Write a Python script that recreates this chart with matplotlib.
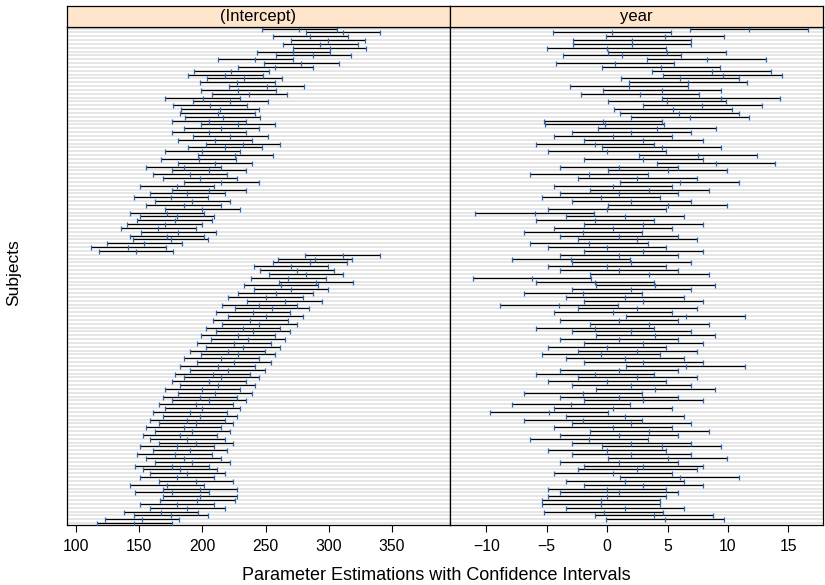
import matplotlib.pyplot as plt

plt.rcParams['font.family'] = ['Liberation Sans', 'DejaVu Sans']

# per-subject coefficient estimates and CI half-widths, listed top row first
int_est = [276.8, 311.1, 285.5, 299.3, 293.4, 300.6, 272.0, 287.9, 241.9, 278.1,
           257.5, 222.9, 217.9, 233.2, 227.7, 250.9, 228.5, 237.2, 200.2, 222.1,
           205.8, 213.7, 212, 216, 205, 228, 215, 205, 222, 210,
           232, 218, 200, 226, 197, 210, 185, 205, 190, 198,
           215, 180, 205, 188, 175, 192, 185, 200, 172, 180,
           178, 170, 165, 180.9, 171.7, 174.9, 154.0, 141.3, 147.1,
           311, 289, 285, 270, 275, 282, 268, 290, 262, 270,
           258, 250, 265, 245, 255, 240, 250, 238, 245, 232,
           240, 228, 236, 225, 232, 220, 228, 215, 225, 212,
           220, 208, 215, 205, 212, 200, 210, 198, 205, 195,
           200, 190, 198, 188, 195, 185, 192, 182, 188, 195,
           180, 190, 178, 185, 192, 176, 182, 188, 180, 195,
           172, 198, 176, 198, 196, 180, 188, 167, 175, 152, 146]
int_half = [
    29.5, 29.3, 29.7, 29.5, 29.7, 29.1, 29.0, 29.9, 29.4, 29.7,
    29.7, 29.9, 29.7, 29.7, 29.5, 29.8, 29.7, 29.8, 29.5, 29.6,
    29.5, 31.0, 29.5, 29.5, 29.5, 29.5, 29.5, 29.5, 29.5, 29.5,
    29.5, 29.5, 29.5, 29.5, 29.5, 29.5, 29.5, 29.5, 29.5, 29.5,
    29.5, 29.5, 29.5, 29.5, 29.5, 29.5, 29.5, 29.5, 29.5, 29.5,
    29.5, 29.5, 29.5, 29.7, 29.3, 29.7, 29.6, 29.5, 29.3,
    29.5, 29.5, 29.5, 29.5, 29.5, 29.5, 29.5, 29.5, 29.5, 29.5,
    29.5, 29.5, 29.5, 29.5, 29.5, 29.5, 29.5, 29.5, 29.5, 29.5,
    29.5, 29.5, 29.5, 29.5, 29.5, 29.5, 29.5, 29.5, 29.5, 29.5,
    29.5, 29.5, 29.5, 29.5, 29.5, 29.5, 29.5, 29.5, 29.5, 29.5,
    29.5, 29.5, 29.5, 29.5, 29.5, 29.5, 29.5, 29.5, 29.5, 29.5,
    29.5, 29.5, 29.5, 29.5, 29.5, 29.5, 29.5, 29.5, 29.5, 29.5,
    29.5, 29.5, 29.5, 29.5, 29.5, 29.5, 29.5, 29.5, 29.5, 29.5, 29.5]
year_est = [11.75, 0.41, 4.80, 2.02, 2.02, -0.05, 4.92, 1.24, 8.23, 0.66,
            4.47, 8.64, 9.55, 6.04, 6.70, 1.82, 4.55, 2.73, 9.39, 4.97,
            7.86, 5.46, 5.96, 6.87, -0.33, -0.2, 4.09, 2.0, 0.5, 3.0,
            -1.0, 4.5, 0.0, 7.5, 3.0, 9.0, 1.0, 5.0, -1.5, 2.5,
            6.0, 0.5, 3.5, 1.0, -0.5, 2.0, 5.0, 0.0, -6.0, 1.5,
            -1.0, 3.0, 0.5, -2.0, 1.0, 2.5, -1.5, 0.0, 3.0,
            1.0, -3.0, 2.0, 0.0, 1.0, 3.5, -6.2, -1.0, 4.0, 2.0,
            -2.0, 1.5, 3.0, -4.0, 2.5, 0.5, 6.5, 1.0, 3.5, -1.0,
            2.0, 4.0, 1.0, 3.0, 0.0, 2.5, -0.5, 1.5, 3.0, 6.5,
            1.0, -1.0, 2.5, 0.0, 2.0, 4.0, -2.0, 1.0, 3.0, -3.0,
            0.5, -4.8, 1.5, -2.0, 2.0, 0.5, 3.5, 1.0, -1.5, 2.0,
            4.5, 0.0, 2.0, 5.0, 1.0, 3.0, 2.5, 0.5, 6.0, 1.5,
            3.0, 0.0, 1.0, 0.0, -0.5, -0.5, 1.5, -0.3, 3.9, 4.8]
year_half = [
    4.89, 4.87, 4.89, 4.88, 4.88, 4.90, 4.88, 4.90, 4.90, 4.91,
    4.90, 4.90, 4.90, 4.87, 4.89, 4.87, 4.90, 4.87, 4.89, 4.88,
    4.93, 4.89, 4.92, 4.87, 4.88, 4.90, 4.88, 4.9, 4.9, 4.9,
    4.9, 4.9, 4.9, 4.9, 4.9, 4.9, 4.9, 4.9, 4.9, 4.9,
    4.9, 4.9, 4.9, 4.9, 4.9, 4.9, 4.9, 4.9, 4.9, 4.9,
    4.9, 4.9, 4.9, 4.9, 4.9, 4.9, 4.9, 4.9, 4.9,
    4.9, 4.9, 4.9, 4.9, 4.9, 4.9, 4.9, 4.9, 4.9, 4.9,
    4.9, 4.9, 4.9, 4.9, 4.9, 4.9, 4.9, 4.9, 4.9, 4.9,
    4.9, 4.9, 4.9, 4.9, 4.9, 4.9, 4.9, 4.9, 4.9, 4.9,
    4.9, 4.9, 4.9, 4.9, 4.9, 4.9, 4.9, 4.9, 4.9, 4.9,
    4.9, 4.9, 4.9, 4.9, 4.9, 4.9, 4.9, 4.9, 4.9, 4.9,
    4.9, 4.9, 4.9, 4.9, 4.9, 4.9, 4.9, 4.9, 4.9, 4.9,
    4.9, 4.9, 4.9, 4.9, 4.9, 4.9, 4.9, 4.9, 4.9, 4.9, 4.9]

panels = [
    ("(Intercept)", int_est, int_half, (92.7, 396.0), [100, 150, 200, 250, 300, 350]),
    ("year", year_est, year_half, (-13.0, 17.86), [-10, -5, 0, 5, 10, 15]),
]

W, H = 825, 585
fig = plt.figure(figsize=(W / 100, H / 100), dpi=100)
tick_blue = "#2b64b0"

n = len(int_est)
rows = [n - i for i in range(n)]
boxes = [(67, 450), (450, 823)]
ytop, ybot, strip_top = 26.7, 525, 6

for (title, est, half, xlim, ticks), (x0, x1) in zip(panels, boxes):
    ax = fig.add_axes([x0 / W, (H - ybot) / H, (x1 - x0) / W, (ybot - ytop) / H])
    for r in rows:
        ax.axhline(r, color="#e6e6e6", lw=1.4, zorder=0)
    for r, e, h in zip(rows, est, half):
        lo, hi = e - h, e + h
        ax.plot([lo, hi], [r, r], color="black", lw=0.9, solid_capstyle="butt", zorder=2)
        ax.plot([lo, e, hi], [r, r, r], ls="none", marker="|", ms=3.6, mew=0.9,
                color=tick_blue, zorder=3)
    ax.set_xlim(*xlim)
    ax.set_ylim(0.5, n + 0.5)
    ax.set_yticks([])
    ax.set_xticks(ticks)
    ax.tick_params(axis="x", direction="out", length=4.8, width=0.8, labelsize=11.3, pad=5)
    for s in ax.spines.values():
        s.set_linewidth(0.9)

    sax = fig.add_axes([x0 / W, (H - ytop) / H, (x1 - x0) / W, (ytop - strip_top) / H])
    sax.set_xticks([])
    sax.set_yticks([])
    sax.set_facecolor("#ffe5cc")
    for s in sax.spines.values():
        s.set_linewidth(0.9)
    sax.text(0.5, 0.47, title, ha="center", va="center", fontsize=12, transform=sax.transAxes)

fig.text(436 / W, 1 - 575 / H, "Parameter Estimations with Confidence Intervals",
         ha="center", va="center", fontsize=13)
fig.text(14 / W, 1 - 273 / H, "Subjects", ha="center", va="center", rotation=90, fontsize=12.5)

fig.savefig("out.png", dpi=100)
